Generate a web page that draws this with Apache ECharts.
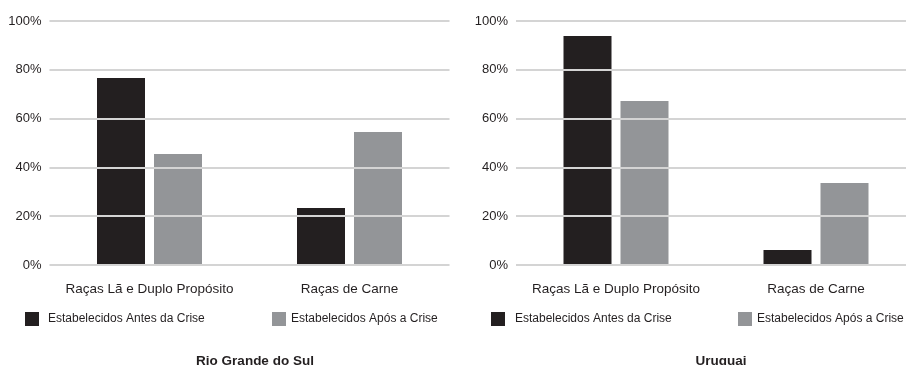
<!DOCTYPE html>
<html>
<head>
<meta charset="utf-8">
<script src="https://cdn.jsdelivr.net/npm/echarts@6/dist/echarts.min.js"></script>
<style>html,body{margin:0;padding:0;background:#fff;overflow:hidden;width:906px;height:365px}#c{width:926px;height:365px}</style>
</head>
<body>
<div id="c"></div>
<script>
const categories = ['Raças Lã e Duplo Propósito', 'Raças de Carne'];
const seriesNames = ['Estabelecidos Antes da Crise', 'Estabelecidos Após a Crise'];
const rsAntes = [76.6, 23.4];
const rsApos = [45.5, 54.5];
const uyAntes = [93.9, 6.1];
const uyApos = [67.2, 33.6];
const yTicks = [0, 20, 40, 60, 80, 100];
const panelTitles = ['Rio Grande do Sul', 'Uruguai'];

const font = 'Liberation Sans, Arial, sans-serif';
const txt = '#231f20';
const colBlack = '#231f20';
const colGray = '#939598';

const chart = echarts.init(document.getElementById('c'));

function yAxis(idx) {
  return {
    type: 'value', gridIndex: idx, min: yTicks[0], max: yTicks[yTicks.length - 1], interval: 20, z: 3,
    axisLine: {show: false}, axisTick: {show: false},
    axisLabel: {formatter: v => v + '%', color: txt, fontFamily: font, fontSize: 13, margin: 8},
    splitLine: {lineStyle: {color: '#d4d4d4', width: 2}}
  };
}
function xAxis(idx) {
  return {
    type: 'category', gridIndex: idx, data: categories,
    axisLine: {show: false}, axisTick: {show: false},
    axisLabel: {interval: 0, color: txt, fontFamily: font, fontSize: 13.5, margin: 17}
  };
}
function bar(name, data, idx, color) {
  return {
    type: 'bar', name: name, xAxisIndex: idx, yAxisIndex: idx, data: data,
    barWidth: 48, barGap: '18.75%', itemStyle: {color: color}, z: 2, silent: true
  };
}
function legend(name, left, gap) {
  return {
    data: [name], left: left, top: 312, padding: 0, icon: 'rect', itemWidth: 14, itemHeight: 14,
    textStyle: {color: txt, fontFamily: font, fontSize: 12, padding: [0, 0, 0, gap]},
    selectedMode: false
  };
}

chart.setOption({
  animation: false,
  textStyle: {fontFamily: font},
  title: [
    {text: panelTitles[0], left: 250, top: 349, textAlign: 'center',
     textStyle: {fontFamily: font, fontSize: 13.5, fontWeight: 'bold', color: txt}},
    {text: panelTitles[1], left: 716, top: 349, textAlign: 'center',
     textStyle: {fontFamily: font, fontSize: 13.5, fontWeight: 'bold', color: txt}}
  ],
  legend: [
    legend(seriesNames[0], 25, 4),
    legend(seriesNames[1], 272, 0),
    legend(seriesNames[0], 491, 5),
    legend(seriesNames[1], 738, 0)
  ],
  grid: [
    {left: 49.5, top: 21, width: 400, height: 244},
    {left: 516, top: 21, width: 400, height: 244}
  ],
  xAxis: [xAxis(0), xAxis(1)],
  yAxis: [yAxis(0), yAxis(1)],
  series: [
    bar(seriesNames[0], rsAntes, 0, colBlack),
    bar(seriesNames[1], rsApos, 0, colGray),
    bar(seriesNames[0], uyAntes, 1, colBlack),
    bar(seriesNames[1], uyApos, 1, colGray)
  ]
});
</script>
</body>
</html>
